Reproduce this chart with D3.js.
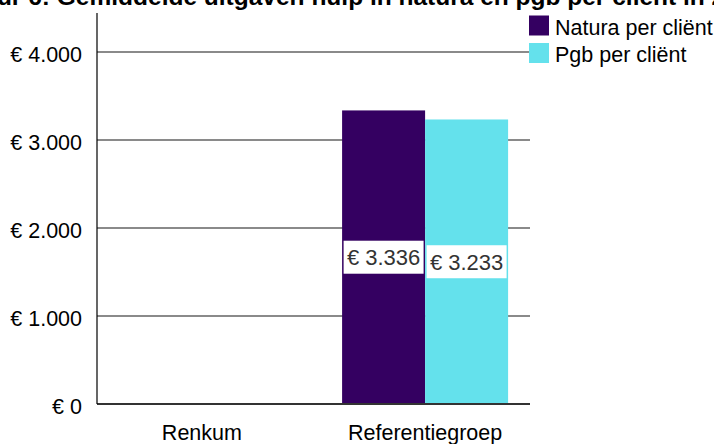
<!DOCTYPE html>
<html>
<head>
<meta charset="utf-8">
<script src="https://cdn.jsdelivr.net/npm/d3@7"></script>
<style>
  body { margin: 0; background: #fff; }
  svg { display: block; font-family: "Liberation Sans", Arial, sans-serif; }
</style>
</head>
<body>
<svg id="chart"></svg>
<script>
let width = 714, height = 444;

// data
let categories = ["Renkum", "Referentiegroep"];
let seriesNames = ["Natura per cliënt", "Pgb per cliënt"];
let natura = [null, 3336];
let pgb = [null, 3233];
let yTicks = [0, 1000, 2000, 3000, 4000];
let titleText = "Figuur 6: Gemiddelde uitgaven hulp in natura en pgb per cliënt in 2022";

let colors = ["#340061", "#64e1ec"];
let series = [natura, pgb];

let nl = d3.formatLocale({ decimal: ",", thousands: ".", grouping: [3], currency: ["€ ", ""] });
let euro = nl.format("$,.0f");

let svg = d3.select("#chart").attr("width", width).attr("height", height);

let plotLeft = 97, plotRight = 530, plotTop = 13, plotBottom = 404;

let y = d3.scaleLinear().domain([0, 4443]).range([plotBottom, plotTop]);
let x = d3.scalePoint().domain(categories).range([plotLeft, plotRight]).padding(0.47);
let inner = d3.scaleBand().domain(seriesNames).range([-83, 83]).padding(0);

// gridlines
svg.append("g")
  .selectAll("line")
  .data(yTicks.filter(d => d > 0))
  .enter()
  .append("line")
  .attr("x1", plotLeft).attr("x2", plotRight)
  .attr("y1", d => y(d)).attr("y2", d => y(d))
  .attr("stroke", "#8a8a8a")
  .attr("stroke-width", 2);

// bars
let rows = [];
categories.forEach((c, i) => {
  series.forEach((s, j) => {
    if (s[i] != null) rows.push({ cat: c, name: seriesNames[j], value: s[i], color: colors[j] });
  });
});

svg.append("g")
  .selectAll("rect")
  .data(rows)
  .enter()
  .append("rect")
  .attr("x", d => x(d.cat) + inner(d.name))
  .attr("width", inner.bandwidth())
  .attr("y", d => y(d.value))
  .attr("height", d => y(0) - y(d.value))
  .attr("fill", d => d.color);

// baseline and y axis line
svg.append("line")
  .attr("x1", plotLeft).attr("x2", plotRight)
  .attr("y1", y(0)).attr("y2", y(0))
  .attr("stroke", "#333").attr("stroke-width", 2);
svg.append("line")
  .attr("x1", plotLeft).attr("x2", plotLeft)
  .attr("y1", plotTop).attr("y2", y(0))
  .attr("stroke", "#000").attr("stroke-width", 1.2);

// value labels
let labels = svg.append("g").selectAll("g")
  .data(rows)
  .enter()
  .append("g")
  .attr("transform", d => "translate(" + (x(d.cat) + inner(d.name) + inner.bandwidth() / 2) + "," + ((y(d.value) + y(0)) / 2) + ")");
labels.append("rect")
  .attr("x", -inner.bandwidth() / 2 + 1.5)
  .attr("width", inner.bandwidth() - 3)
  .attr("y", -16.5)
  .attr("height", 33)
  .attr("fill", "#fff");
labels.append("text")
  .attr("text-anchor", "middle")
  .attr("y", 8)
  .attr("font-size", 22)
  .attr("fill", "#333")
  .text(d => euro(d.value));

// y tick labels
svg.append("g")
  .selectAll("text")
  .data(yTicks)
  .enter()
  .append("text")
  .attr("x", 82)
  .attr("y", d => y(d) + 10)
  .attr("text-anchor", "end")
  .attr("font-size", 21.5)
  .attr("fill", "#000")
  .text(d => euro(d));

// category labels
svg.append("g")
  .selectAll("text")
  .data(categories)
  .enter()
  .append("text")
  .attr("x", d => x(d))
  .attr("y", 440)
  .attr("text-anchor", "middle")
  .attr("font-size", 21.5)
  .attr("fill", "#000")
  .text(d => d);

// legend
let legend = svg.append("g").selectAll("g")
  .data(seriesNames)
  .enter()
  .append("g")
  .attr("transform", (d, i) => "translate(529," + (15.5 + 27.5 * i) + ")");
legend.append("rect")
  .attr("width", 20).attr("height", 20)
  .attr("fill", (d, i) => colors[i]);
legend.append("text")
  .attr("x", 26)
  .attr("y", 19)
  .attr("font-size", 21.5)
  .attr("fill", "#000")
  .text(d => d);

// title (clipped at the top, as in the source)
let title = svg.append("text")
  .attr("y", 5)
  .attr("font-size", 24.5)
  .attr("font-weight", "bold")
  .attr("fill", "#000")
  .text(titleText);
let probe = svg.append("text")
  .attr("font-size", 24.5)
  .attr("font-weight", "bold")
  .text("Figuur 6: ");
let pre = probe.node().getComputedTextLength();
probe.remove();
title.attr("x", 50 - pre);
</script>
</body>
</html>
